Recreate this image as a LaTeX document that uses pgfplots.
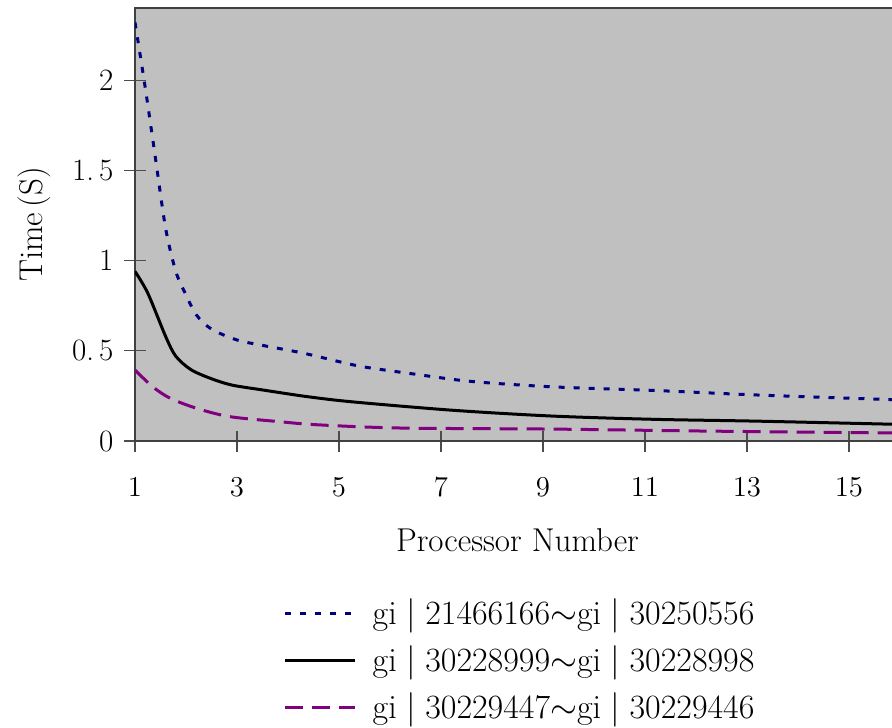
\documentclass[border=0pt]{standalone}
\usepackage{pgfplots}
\pgfplotsset{compat=1.18}

\definecolor{bgray}{RGB}{192,192,192}
\definecolor{dblue}{RGB}{0,0,128}
\definecolor{dpurple}{RGB}{128,0,128}

\begin{document}
\begin{tikzpicture}
\begin{axis}[
    at={(0,0)}, anchor=south west,
    scale only axis,
    width=382.5pt, height=216.5pt,
    xmin=1, xmax=16,
    ymin=0, ymax=2.4,
    axis background/.style={fill=bgray},
    axis line style={black!75, line width=0.8pt},
    xtick={1,3,5,7,9,11,13,15},
    ytick={0,0.5,1,1.5,2},
    yticklabels={0,0.\,5,1,1.\,5,2},
    xtick pos=bottom, ytick pos=left,
    major tick length=10.5pt,
    tick align=center,
    tick style={black!70, line width=0.6pt},
    ticklabel style={font=\fontsize{15.5}{17}\selectfont},
    xticklabel style={yshift=-9.5pt},
    yticklabel style={xshift=-2pt},
    xlabel={Processor Number},
    ylabel={Time\,(S)},
    label style={font=\fontsize{16.5}{18}\selectfont},
    xlabel style={yshift=-9.5pt},
    ylabel style={yshift=4pt},
    legend style={at={(0.186,-0.345)}, anchor=north west, draw=none, fill=none,
        font=\fontsize{17}{19}\selectfont, row sep=5pt},
    legend cell align=left,
    legend image code/.code={\draw[#1] (0pt,0pt) -- (35pt,0pt); \path (41pt,0pt);},
]
\addplot[dblue, line width=1.5pt, dash pattern=on 3pt off 4.5pt, smooth] coordinates {
(1,2.32) (1.2,1.96) (1.4,1.57) (1.6,1.18) (1.8,0.94) (2,0.81) (2.2,0.70) (2.5,0.62)
(3,0.56) (3.5,0.53) (4.3,0.487) (5,0.44) (5.5,0.41) (6.5,0.37) (7.6,0.33) (9.2,0.30)
(11.2,0.28) (13.2,0.255) (16,0.228)};
\addlegendentry{gi\;$|$\;21466166$\sim$gi\;$|$\;30250556}
\addplot[black, line width=1.5pt, smooth] coordinates {
(1,0.94) (1.25,0.82) (1.6,0.58) (1.8,0.47) (2.1,0.395) (2.5,0.345) (2.9,0.31)
(3.5,0.283) (4.4,0.245) (5.3,0.216) (7.25,0.17) (9.2,0.138) (11.2,0.12) (13.2,0.11)
(16,0.092)};
\addlegendentry{gi\;$|$\;30228999$\sim$gi\;$|$\;30228998}
\addplot[dpurple, line width=1.5pt, dash pattern=on 9pt off 4.5pt, smooth] coordinates {
(1,0.393) (1.35,0.30) (1.69,0.237) (2.21,0.181) (2.86,0.135) (3.84,0.107) (4.57,0.09)
(6.2,0.072) (9.2,0.066) (12.2,0.055) (16,0.044)};
\addlegendentry{gi\;$|$\;30229447$\sim$gi\;$|$\;30229446}
\end{axis}
\pgfresetboundingbox
\path (-67.5pt,-143pt) rectangle (378.5pt,220.5pt);
\end{tikzpicture}
\end{document}
